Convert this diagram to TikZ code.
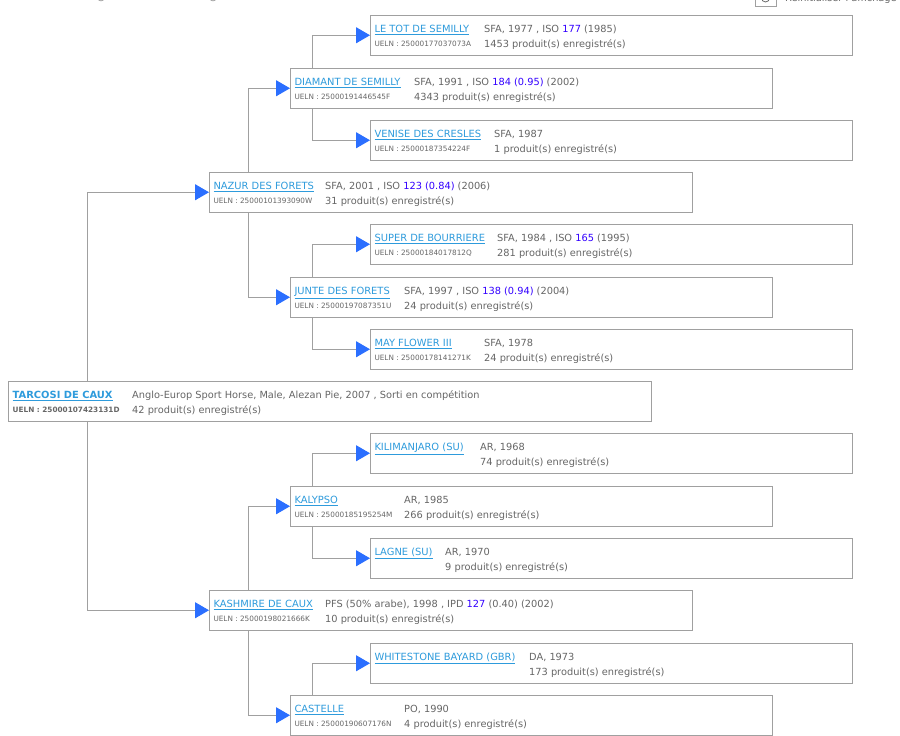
\documentclass[tikz,border=0pt]{standalone}
\usepackage{fontspec}
\setmainfont{DejaVu Sans}
\usetikzlibrary{arrows.meta}

\definecolor{lienbleu}{HTML}{2E9BDC}
\definecolor{flechebleu}{HTML}{2B6FFF}
\definecolor{indice}{HTML}{3300FF}
\definecolor{texte}{HTML}{666666}
\definecolor{trait}{HTML}{A0A0A0}

\tikzset{
	fiche/.style={draw=trait, line width=1pt, fill=white, anchor=north west, minimum width=#1, minimum height=39.5pt, inner sep=0pt},
	nom/.style={anchor=base west, inner sep=0pt, text=lienbleu, font=\fontsize{9.9}{12}\selectfont},
	code/.style={anchor=base west, inner sep=0pt, text=texte, font=\fontsize{7.3}{9}\selectfont},
	info/.style={anchor=base west, inner sep=0pt, text=texte, font=\fontsize{9.8}{12}\selectfont},
	lien/.style={draw=trait, line width=1pt, -{Triangle[length=14pt,width=16pt,color=flechebleu]}},
}

% #1 id, #2 width, #3 position, #4 name, #5 ueln, #6 info offset, #7 first line, #8 second line
\newcommand{\cheval}[8]{
	\node[fiche=#2] (#1) at #3 {};
	\node[nom] (#1-nom) at ([shift={(4.3,17.5)}]#1.north west) {\underline{#4}};
	\node[code] (#1-code) at ([shift={(4.3,31)}]#1.north west) {UELN : #5};
	\node[info] (#1-a) at ([shift={(#6,17.5)}]#1.north west) {#7};
	\node[info] (#1-b) at ([shift={(#6,32)}]#1.north west) {#8};
}
\newcommand{\ind}[1]{\textcolor{indice}{#1}}

\begin{document}
\begin{tikzpicture}[x=1pt,y=-1pt]
	\useasboundingbox (0,0) rectangle (900,736);

	% haut de page
	\node[draw=trait, line width=1pt, minimum width=21pt, minimum height=18pt, inner sep=0pt, anchor=south west] (reset) at (755,7) {};
	\node[draw=texte, circle, line width=0.8pt, minimum size=8pt, inner sep=0pt] (reseticone) at (765.5,-2) {};
	\node[info] (resettxt) at (785,1.5) {Réinitialiser l'affichage};
	\node[draw=texte, circle, minimum size=7pt, inner sep=0pt] (choixa) at (101,-2.5) {};
	\node[draw=texte, circle, minimum size=7pt, inner sep=0pt] (choixb) at (213,-2.5) {};

	% cheval
	\node[fiche=643pt] (tarcosi) at (8,381) {};
	\node[nom, font=\bfseries\fontsize{9.9}{12}\selectfont] (tarcosi-nom) at ([shift={(4.5,17.5)}]tarcosi.north west) {\underline{TARCOSI DE CAUX}};
	\node[code, font=\bfseries\fontsize{7.3}{9}\selectfont] (tarcosi-code) at ([shift={(4.5,31)}]tarcosi.north west) {UELN : 25000107423131D};
	\node[info] (tarcosi-a) at ([shift={(124,17.5)}]tarcosi.north west) {Anglo-Europ Sport Horse, Male, Alezan Pie, 2007 , Sorti en compétition};
	\node[info] (tarcosi-b) at ([shift={(124,32)}]tarcosi.north west) {42 produit(s) enregistré(s)};

	% parents
	\cheval{nazur}{483pt}{(209,172)}{NAZUR DES FORETS}{25000101393090W}{116}{SFA, 2001 , ISO \ind{123 (0.84)} (2006)}{31 produit(s) enregistré(s)}
	\cheval{kashmire}{483pt}{(209,590)}{KASHMIRE DE CAUX}{25000198021666K}{116}{PFS (50\% arabe), 1998 , IPD \ind{127} (0.40) (2002)}{10 produit(s) enregistré(s)}

	% grands-parents
	\cheval{diamant}{482pt}{(290,68)}{DIAMANT DE SEMILLY}{25000191446545F}{124}{SFA, 1991 , ISO \ind{184 (0.95)} (2002)}{4343 produit(s) enregistré(s)}
	\cheval{junte}{482pt}{(290,277)}{JUNTE DES FORETS}{25000197087351U}{114}{SFA, 1997 , ISO \ind{138 (0.94)} (2004)}{24 produit(s) enregistré(s)}
	\cheval{kalypso}{482pt}{(290,486)}{KALYPSO}{25000185195254M}{114}{AR, 1985}{266 produit(s) enregistré(s)}
	\cheval{castelle}{482pt}{(290,695)}{CASTELLE}{25000190607176N}{114}{PO, 1990}{4 produit(s) enregistré(s)}

	% arriere-grands-parents
	\cheval{letot}{482pt}{(370,15)}{LE TOT DE SEMILLY}{25000177037073A}{114}{SFA, 1977 , ISO \ind{177} (1985)}{1453 produit(s) enregistré(s)}
	\cheval{venise}{482pt}{(370,120)}{VENISE DES CRESLES}{25000187354224F}{124}{SFA, 1987}{1 produit(s) enregistré(s)}
	\cheval{super}{482pt}{(370,224)}{SUPER DE BOURRIERE}{25000184017812Q}{127}{SFA, 1984 , ISO \ind{165} (1995)}{281 produit(s) enregistré(s)}
	\cheval{may}{482pt}{(370,329)}{MAY FLOWER III}{25000178141271K}{114}{SFA, 1978}{24 produit(s) enregistré(s)}
	\node[fiche=482pt] (kili) at (370,433) {};
	\node[nom] (kili-nom) at ([shift={(4.3,17.5)}]kili.north west) {\underline{KILIMANJARO (SU)}};
	\node[info] (kili-a) at ([shift={(110,17.5)}]kili.north west) {AR, 1968};
	\node[info] (kili-b) at ([shift={(110,32)}]kili.north west) {74 produit(s) enregistré(s)};
	\node[fiche=482pt] (lagne) at (370,538) {};
	\node[nom] (lagne-nom) at ([shift={(4.3,17.5)}]lagne.north west) {\underline{LAGNE (SU)}};
	\node[info] (lagne-a) at ([shift={(75,17.5)}]lagne.north west) {AR, 1970};
	\node[info] (lagne-b) at ([shift={(75,32)}]lagne.north west) {9 produit(s) enregistré(s)};
	\node[fiche=482pt] (whitestone) at (370,643) {};
	\node[nom] (whitestone-nom) at ([shift={(4.3,17.5)}]whitestone.north west) {\underline{WHITESTONE BAYARD (GBR)}};
	\node[info] (whitestone-a) at ([shift={(159,17.5)}]whitestone.north west) {DA, 1973};
	\node[info] (whitestone-b) at ([shift={(159,32)}]whitestone.north west) {173 produit(s) enregistré(s)};

	% liens
	\draw[lien] ([xshift=79pt]tarcosi.north west) |- (nazur.west);
	\draw[lien] ([xshift=79pt]tarcosi.south west) |- (kashmire.west);
	\draw[lien] ([xshift=39pt]nazur.north west) |- (diamant.west);
	\draw[lien] ([xshift=39pt]nazur.south west) |- (junte.west);
	\draw[lien] ([xshift=39pt]kashmire.north west) |- (kalypso.west);
	\draw[lien] ([xshift=39pt]kashmire.south west) |- (castelle.west);
	\draw[lien] ([xshift=22pt]diamant.north west) |- (letot.west);
	\draw[lien] ([xshift=22pt]diamant.south west) |- (venise.west);
	\draw[lien] ([xshift=22pt]junte.north west) |- (super.west);
	\draw[lien] ([xshift=22pt]junte.south west) |- (may.west);
	\draw[lien] ([xshift=22pt]kalypso.north west) |- (kili.west);
	\draw[lien] ([xshift=22pt]kalypso.south west) |- (lagne.west);
	\draw[lien] ([xshift=22pt]castelle.north west) |- (whitestone.west);
	\draw[draw=trait, line width=1pt] ([xshift=22pt]castelle.south west) -- ++(0,4);
\end{tikzpicture}
\end{document}
